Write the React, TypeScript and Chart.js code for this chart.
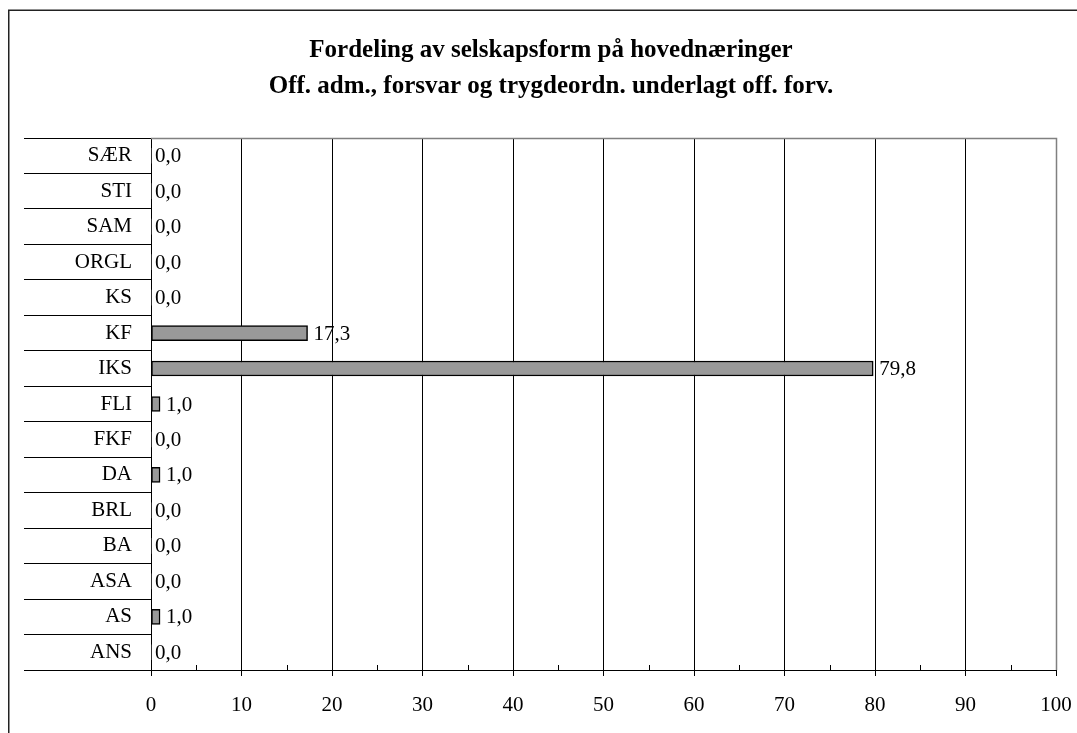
import React, { useEffect, useRef } from 'react';
import { Chart, registerables } from 'chart.js';

Chart.register(...registerables);

const categories = ['SÆR', 'STI', 'SAM', 'ORGL', 'KS', 'KF', 'IKS', 'FLI', 'FKF', 'DA', 'BRL', 'BA', 'ASA', 'AS', 'ANS'];
const values = [0.0, 0.0, 0.0, 0.0, 0.0, 17.3, 79.8, 1.0, 0.0, 1.0, 0.0, 0.0, 0.0, 1.0, 0.0];
const xMin = 0;
const xMax = 100;
const xStep = 10;
const minorTicks = [5, 15, 25, 35, 45, 55, 65, 75, 85, 95];
const titleLines = [
  'Fordeling av selskapsform på hovednæringer',
  'Off. adm., forsvar og trygdeordn. underlagt off. forv.',
];

const FONT = '"Liberation Serif", "Times New Roman", serif';
const W = 1077;
const H = 733;

const fmt = (v: number) => v.toFixed(1).replace('.', ',');

const decorPlugin = {
  id: 'decor',
  afterDatasetsDraw(chart: any) {
    const ctx = chart.ctx;
    const meta = chart.getDatasetMeta(0);
    ctx.save();
    ctx.fillStyle = '#000';
    ctx.font = `21px ${FONT}`;
    ctx.textAlign = 'left';
    ctx.textBaseline = 'middle';
    meta.data.forEach((el: any, i: number) => {
      const v = values[i];
      ctx.fillText(fmt(v), el.x + (v > 0 ? 6 : 4), el.y + 1);
    });
    ctx.restore();
  },
  afterDraw(chart: any) {
    const ctx = chart.ctx;
    const { left, right, top, bottom } = chart.chartArea;
    ctx.save();
    // plot area border (top & right) in gray
    ctx.strokeStyle = '#808080';
    ctx.lineWidth = 1.5;
    ctx.beginPath();
    ctx.moveTo(left, top + 0.5);
    ctx.lineTo(right + 0.5, top + 0.5);
    ctx.lineTo(right + 0.5, bottom);
    ctx.stroke();
    // minor ticks on x axis (inside)
    const xs = chart.scales.x;
    ctx.strokeStyle = '#000';
    ctx.lineWidth = 1;
    ctx.beginPath();
    minorTicks.forEach((v) => {
      const px = Math.round(xs.getPixelForValue(v)) + 0.5;
      ctx.moveTo(px, bottom);
      ctx.lineTo(px, bottom - 5);
    });
    ctx.stroke();
    // outer frame
    ctx.strokeStyle = '#222';
    ctx.lineWidth = 1.5;
    ctx.beginPath();
    ctx.moveTo(8.75, H);
    ctx.lineTo(8.75, 10.25);
    ctx.lineTo(W, 10.25);
    ctx.stroke();
    // title
    ctx.fillStyle = '#000';
    ctx.font = `bold 25px ${FONT}`;
    ctx.textAlign = 'center';
    ctx.textBaseline = 'alphabetic';
    ctx.fillText(titleLines[0], 551, 57);
    ctx.fillText(titleLines[1], 551, 93);
    ctx.restore();
  },
};

export default function App() {
  const canvasRef = useRef<HTMLCanvasElement | null>(null);

  useEffect(() => {
    document.body.style.margin = '0';
    document.body.style.overflow = 'hidden';
    const canvas = canvasRef.current;
    if (!canvas) return;
    const chart = new Chart(canvas, {
      type: 'bar',
      data: {
        labels: categories,
        datasets: [
          {
            data: values,
            backgroundColor: '#999999',
            borderColor: '#000000',
            borderWidth: (c: any) => (values[c.dataIndex] > 0 ? 1.5 : 0),
            borderSkipped: false,
            barThickness: 15,
          },
        ],
      },
      options: {
        indexAxis: 'y',
        animation: false,
        responsive: false,
        maintainAspectRatio: false,
        layout: { padding: { left: 24, right: 21, top: 138, bottom: 0 } },
        plugins: {
          legend: { display: false },
          title: { display: false },
          tooltip: { enabled: false },
        },
        scales: {
          x: {
            type: 'linear',
            position: 'bottom',
            min: xMin,
            max: xMax,
            ticks: {
              stepSize: xStep,
              color: '#000',
              font: { family: FONT, size: 21 },
              padding: 17,
              maxRotation: 0,
            },
            grid: {
              color: '#000',
              lineWidth: 1,
              drawTicks: true,
              tickLength: 6,
            },
            border: { display: true, color: '#000', width: 1 },
            afterFit: (scale: any) => {
              scale.height = 63;
              scale.paddingLeft = 0;
              scale.paddingRight = 0;
            },
          },
          y: {
            type: 'category',
            position: 'left',
            offset: true,
            ticks: {
              color: '#000',
              font: { family: FONT, size: 21 },
              padding: -108,
            },
            grid: {
              offset: true,
              drawOnChartArea: false,
              drawTicks: true,
              tickLength: 127,
              color: '#000',
              lineWidth: 1,
            },
            border: { display: true, color: '#000', width: 1 },
            afterFit: (scale: any) => {
              scale.width = 127;
              scale.paddingTop = 0;
              scale.paddingBottom = 0;
            },
          },
        },
      },
      plugins: [decorPlugin],
    });
    return () => chart.destroy();
  }, []);

  return (
    <div style={{ width: W, height: H }}>
      <canvas ref={canvasRef} width={W} height={H} style={{ display: 'block', width: W, height: H }} />
    </div>
  );
}
